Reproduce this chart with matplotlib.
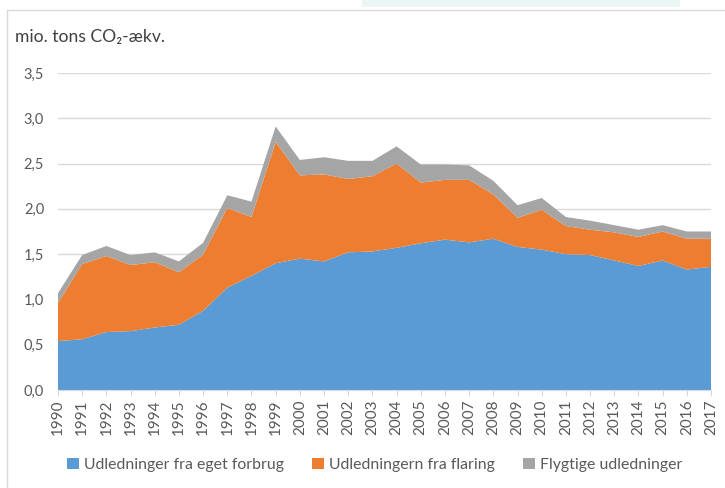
import numpy as np
import matplotlib
matplotlib.use("Agg")
import matplotlib.pyplot as plt
from matplotlib.lines import Line2D
from matplotlib.patches import Rectangle, Patch

plt.rcParams['font.family'] = ['Lato', 'DejaVu Sans']

years = list(range(1990, 2018))
own_use = [0.54, 0.56, 0.64, 0.65, 0.69, 0.72, 0.875, 1.13, 1.26, 1.40,
           1.45, 1.42, 1.52, 1.53, 1.57, 1.62, 1.66, 1.63, 1.67, 1.58,
           1.55, 1.50, 1.49, 1.43, 1.37, 1.43, 1.33, 1.36]
flaring = [0.42, 0.83, 0.84, 0.73, 0.72, 0.58, 0.62, 0.88, 0.65, 1.34,
           0.92, 0.96, 0.81, 0.83, 0.93, 0.67, 0.66, 0.69, 0.49, 0.32,
           0.44, 0.31, 0.28, 0.31, 0.32, 0.32, 0.34, 0.31]
fugitive = [0.11, 0.10, 0.11, 0.11, 0.11, 0.12, 0.13, 0.14, 0.17, 0.17,
            0.17, 0.19, 0.20, 0.17, 0.19, 0.20, 0.17, 0.16, 0.15, 0.14,
            0.13, 0.10, 0.10, 0.08, 0.08, 0.07, 0.08, 0.08]
labels = ["Udledninger fra eget forbrug", "Udledningern fra flaring",
          "Flygtige udledninger"]
colors = ["#5B9BD5", "#ED7D31", "#A5A5A5"]
yticks = [0.0, 0.5, 1.0, 1.5, 2.0, 2.5, 3.0, 3.5]

fig = plt.figure(figsize=(7.25, 4.88), dpi=100)
ax = fig.add_axes([58/725, 1 - 390/488, (711 - 58)/725, (390 - 73)/488])

ax.stackplot(years, own_use, flaring, fugitive, colors=colors, zorder=2)

ax.set_xlim(years[0], years[-1])
ax.set_ylim(0, 3.5)
ax.set_yticks(yticks)
ax.set_yticklabels([f"{v:.1f}".replace(".", ",") for v in yticks])
ax.set_xticks(years)
ax.set_xticklabels([str(y) for y in years], rotation=90)
ax.grid(axis='y', color='#d9d9d9', linewidth=1, zorder=0)
ax.set_axisbelow(True)
for s in ['top', 'right', 'left']:
    ax.spines[s].set_visible(False)
ax.spines['bottom'].set_color('#d9d9d9')
ax.tick_params(axis='y', length=0, labelsize=10.5, labelcolor='#595959', pad=10)
ax.tick_params(axis='x', length=4, color='#d9d9d9', labelsize=11,
               labelcolor='#595959', pad=3)

fig.text(15/725, 1 - 37/488, "mio. tons CO\u2082-ækv.", fontsize=12.6,
         color='#404040', va='center', ha='left')

handles = [Patch(facecolor=c, edgecolor='none') for c in colors]
fig.legend(handles, labels, loc='center', bbox_to_anchor=(0.517, 1 - 465/488),
           ncol=3, frameon=False, fontsize=11.4, handlelength=0.75,
           handleheight=0.75, handletextpad=0.3, columnspacing=1.8,
           labelcolor='#595959')

# outer frame and clipped banner at top
fig.add_artist(Line2D([7/725, 7/725], [0, 1 - 10/488], color='#d9d9d9', lw=1))
fig.add_artist(Line2D([7/725, 1], [1 - 10/488, 1 - 10/488], color='#d9d9d9', lw=1))
fig.add_artist(Rectangle((362/725, 1 - 7/488), (680 - 362)/725, 7/488,
                         transform=fig.transFigure, facecolor='#eaf6f6',
                         edgecolor='none'))

fig.savefig("out.png", dpi=100)
